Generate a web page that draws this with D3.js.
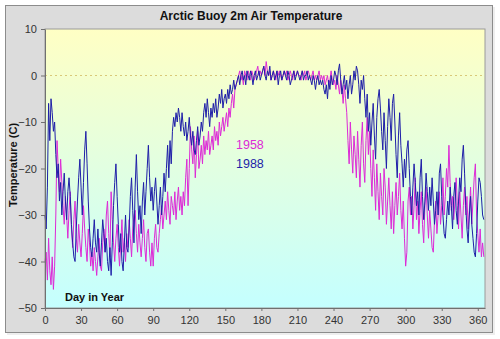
<!DOCTYPE html>
<html><head><meta charset="utf-8">
<script src="https://cdn.jsdelivr.net/npm/d3@7/dist/d3.min.js"></script>
<style>body{margin:0;background:#fff;}svg{display:block;font-family:Arial,"Liberation Sans",sans-serif;}</style>
</head><body><svg id="c" width="500" height="339"></svg>
<script>
const title = "Arctic Buoy 2m Air Temperature";
const yLabel = "Temperature (C)";
const xLabel = "Day in Year";
const xTicks = [0,30,60,90,120,150,180,210,240,270,300,330,360];
const yTicks = [-50,-40,-30,-20,-10,0,10];
const seriesNames = ["1958","1988"];
const seriesColors = ["#dd2ad6","#1e1ea8"];
// daily values, day 0..365
const temp1958 = [
-40,-38,-44,-35,-42,-45,-39,-46,-41,-30,
-14,-20,-25,-18,-23,-28,-32,-26,-30,-35,
-29,-25,-33,-37,-31,-27,-35,-38,-32,-36,
-39,-34,-28,-33,-37,-40,-33,-36,-41,-38,
-42,-37,-40,-43,-39,-35,-41,-42,-36,-33,
-38,-30,-27,-34,-39,-25,-31,-36,-40,-35,
-32,-37,-41,-36,-31,-38,-35,-40,-34,-37,
-31,-35,-39,-33,-30,-29,-34,-38,-32,-36,
-39,-35,-31,-37,-40,-34,-33,-38,-41,-36,
-41,-35,-32,-37,-38,-34,-31,-28,-33,-30,
-27,-31,-25,-29,-32,-26,-28,-30,-25,-31,
-27,-24,-29,-26,-30,-25,-28,-22,-18,-28,
-20,-11,-16,-19,-13,-22,-17,-12,-20,-18,
-15,-19,-13,-17,-14,-16,-12,-17,-15,-13,
-16,-11,-14,-12,-15,-10,-13,-11,-9,-12,
-10,-8,-11,-7,-9,-6,-4,-7,-3,-2,
-1,0,1,-1,0,-2,1,0,-1,1,
0,-1,1,0,-1,0,1,2,0,1,
0,1,2,0,3,1,0,1,-1,0,
1,0,-1,1,0,1,0,-1,0,1,
0,1,-1,0,1,0,-1,1,0,0,
1,0,0,-1,1,0,1,-1,0,1,
0,-1,0,1,-1,0,-1,0,1,-1,
0,-1,0,-2,-1,0,-2,-1,1,-1,
-2,-1,-3,0,-2,-4,-1,-3,-6,-2,
-5,-8,-14,-19,-10,-16,-21,-13,-17,-22,
-12,-18,-24,-15,-10,-19,-23,-14,-9,-17,
-12,-20,-26,-16,-22,-29,-19,-25,-31,-21,
-26,-30,-20,-24,-32,-27,-22,-28,-33,-25,
-34,-28,-23,-30,-26,-21,-29,-33,-27,-35,
-41,-38,-27,-24,-30,-26,-33,-28,-22,-31,
-27,-34,-29,-25,-32,-36,-28,-24,-30,-35,
-29,-33,-37,-38,-31,-27,-34,-30,-25,-32,
-28,-22,-30,-26,-20,-24,-15,-23,-29,-26,
-31,-27,-22,-28,-33,-25,-30,-35,-28,-24,
-30,-26,-33,-29,-24,-32,-27,-22,-19,-30,
-34,-38,-33,-39,-36,-39];
const temp1988 = [
-30,-33,-24,-6,-14,-5,-8,-12,-10,-17,
-22,-19,-27,-23,-30,-25,-21,-27,-31,-25,
-22,-26,-32,-36,-39,-40,-33,-27,-22,-18,
-24,-30,-23,-16,-12,-19,-27,-33,-37,-39,
-35,-31,-36,-38,-33,-38,-41,-36,-31,-34,
-38,-35,-40,-42,-37,-43,-36,-28,-23,-19,
-26,-32,-38,-34,-40,-42,-36,-30,-37,-38,
-33,-26,-22,-29,-36,-24,-17,-25,-31,-28,
-34,-27,-23,-30,-25,-20,-15,-22,-27,-24,
-29,-25,-22,-27,-32,-28,-24,-30,-26,-21,
-25,-20,-15,-22,-14,-19,-12,-9,-11,-8,
-10,-7,-9,-12,-8,-11,-13,-10,-14,-12,
-9,-13,-15,-12,-16,-17,-14,-11,-15,-13,
-10,-12,-8,-6,-9,-5,-8,-11,-7,-9,
-6,-8,-5,-9,-7,-4,-6,-3,-7,-5,
-4,-6,-3,-5,-2,-4,-3,-1,-3,-2,
-1,0,-2,0,1,-1,0,-2,1,0,
-1,1,0,-2,0,1,-1,0,1,-1,
0,1,2,0,-1,1,0,2,-1,0,
1,-1,0,1,-2,0,1,-1,0,1,
0,-1,1,0,-2,-1,0,1,-1,0,
1,0,-1,0,1,-1,0,0,1,-1,
0,-1,-2,0,-1,-3,-1,0,-2,-1,
-2,-1,-3,-4,-2,-5,-1,-3,0,-2,
-1,1,0,-2,1,2.5,-1,-4,-2,0,
-3,-1,-5,-2,0,-4,-2,1,-1,2,
1,-2,-6,-1,-3,0,-5,-9,-4,-12,
-8,-15,-10,-6,-13,-18,-9,-5,-3,-7,
-12,-16,-8,-14,-20,-11,-5,-9,-14,-6,
-4,-10,-17,-22,-13,-8,-15,-19,-24,-18,
-22,-16,-14,-20,-26,-30,-24,-19,-23,-28,
-25,-30,-22,-18,-26,-31,-27,-21,-25,-29,
-24,-28,-22,-27,-32,-29,-25,-30,-21,-19,
-26,-30,-34,-35,-31,-27,-30,-24,-28,-33,
-26,-23,-29,-32,-27,-22,-25,-18,-15,-21,
-28,-33,-36,-30,-26,-32,-35,-38,-39,-34,
-27,-22,-23,-26,-30,-31];

const svg = d3.select("#c");
const L=45, R=485, T=29, B=308;
const x = d3.scaleLinear().domain([0,366]).range([L,R]);
const y = d3.scaleLinear().domain([-50,10]).range([B,T]);

// frame
svg.append("rect").attr("x",7).attr("y",7).attr("width",488).attr("height",328).attr("fill","#eeeeee");
svg.append("rect").attr("x",5.5).attr("y",5.5).attr("width",487).attr("height",327)
  .attr("fill","#dcdcdc").attr("stroke","#8c8c8c");

// gradient
const defs = svg.append("defs");
const g = defs.append("linearGradient").attr("id","bg").attr("x1",0).attr("y1",0).attr("x2",0).attr("y2",1);
g.append("stop").attr("offset","0%").attr("stop-color","#ffffc4");
g.append("stop").attr("offset","100%").attr("stop-color","#c4ffff");
svg.append("rect").attr("x",L).attr("y",T).attr("width",R-L).attr("height",B-T)
  .attr("fill","url(#bg)").attr("stroke","#9a9a9a");

// zero line
svg.append("line").attr("x1",L).attr("x2",R).attr("y1",Math.round(y(0))+0.5).attr("y2",Math.round(y(0))+0.5)
  .attr("stroke","#d9c878").attr("stroke-dasharray","2,3");

// series
const line = d3.line().x((d,i)=>x(i)).y(d=>y(d));
[temp1958,temp1988].forEach((s,k)=>{
  svg.append("path").datum(s).attr("d",line).attr("fill","none")
    .attr("stroke",seriesColors[k]).attr("stroke-width",1);
});

// axes
const xa = svg.append("g").attr("transform",`translate(0,${B})`)
  .call(d3.axisBottom(x).tickValues(xTicks).tickSize(3).tickSizeOuter(0));
const ya = svg.append("g").attr("transform",`translate(${L},0)`)
  .call(d3.axisLeft(y).tickValues(yTicks).tickSize(4).tickSizeOuter(0));
[xa,ya].forEach(a=>{
  a.select(".domain").attr("stroke","#707070");
  a.selectAll(".tick line").attr("stroke","#707070");
  a.selectAll(".tick text").attr("fill","#333").attr("font-size","11px").attr("font-family","Arial, 'Liberation Sans', sans-serif");
});
xa.selectAll(".tick text").attr("dy","0.71em").attr("y",8);
ya.selectAll(".tick text").attr("x",-8);

// title & labels
svg.append("text").attr("x",251).attr("y",20).attr("text-anchor","middle")
  .attr("font-size","12px").attr("font-weight","bold").attr("fill","#111").text(title);
svg.append("text").attr("transform","translate(17,165) rotate(-90)").attr("text-anchor","middle")
  .attr("font-size","11px").attr("font-weight","bold").attr("fill","#111").text(yLabel);
svg.append("text").attr("x",65).attr("y",301)
  .attr("font-size","11px").attr("font-weight","bold").attr("fill","#111").text(xLabel);

// legend
svg.append("text").attr("x",236).attr("y",149).attr("font-size","12.5px").attr("fill",seriesColors[0]).text(seriesNames[0]);
svg.append("text").attr("x",236).attr("y",168).attr("font-size","12.5px").attr("fill",seriesColors[1]).text(seriesNames[1]);
</script></body></html>
